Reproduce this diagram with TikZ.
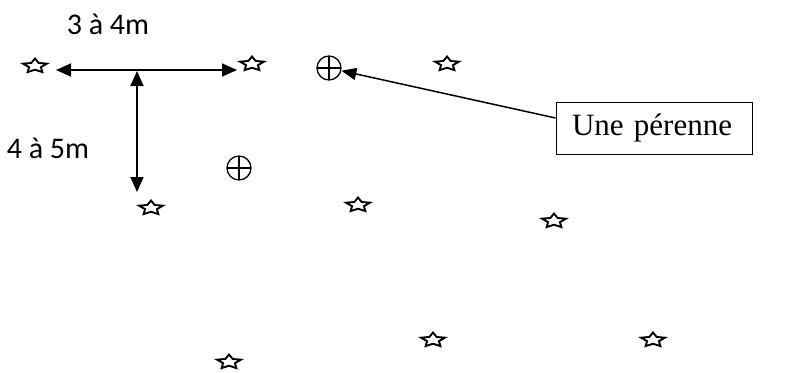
\documentclass[tikz,border=0pt]{standalone}
\usepackage{fontspec}
\setmainfont{Liberation Serif}
\newfontfamily\calib{Carlito}
\usetikzlibrary{shapes.geometric,arrows.meta}
\tikzset{
  starmark/.style={star, star points=5, star point ratio=2.0, draw, line width=1.9pt,
    minimum size=25pt, inner sep=0pt, yscale=0.6, transform shape},
  plusmark/.style={circle, draw, line width=1.3pt, minimum size=24pt, inner sep=0pt,
    path picture={\draw[line width=1.3pt] (path picture bounding box.north) -- (path picture bounding box.south)
      (path picture bounding box.west) -- (path picture bounding box.east);}},
  dimarrow/.style={line width=1.7pt, {Triangle[length=15pt,width=13pt]}-{Triangle[length=15pt,width=13pt]}},
  ptrarrow/.style={line width=1.5pt, -{Triangle[length=15pt,width=12pt]}},
  dimlabel/.style={font=\calib\fontsize{30}{36}\selectfont, inner sep=0pt},
  labelbox/.style={draw, line width=1pt, minimum width=196pt, minimum height=52pt,
    text width=164pt, inner xsep=16pt, align=left, font=\fontsize{31}{36}\selectfont}
}
\begin{document}
\begin{tikzpicture}[x=1pt,y=-1pt]
\useasboundingbox (0,0) rectangle (791,372);
% stars
\node[starmark] (s1) at (35,66) {};
\node[starmark] (s2) at (252,64) {};
\node[starmark] (s3) at (447,64) {};
\node[starmark] (s4) at (151,208) {};
\node[starmark] (s5) at (358,205) {};
\node[starmark] (s6) at (554,221) {};
\node[starmark] (s7) at (433,340) {};
\node[starmark] (s8) at (653,340) {};
\node[starmark] (s9) at (229,362) {};
% perennials
\node[plusmark] (c1) at (329,68) {};
\node[plusmark] (c2) at (239,168) {};
% dimension arrows
\coordinate (hl) at (56,70);
\coordinate (hr) at (237,70);
\coordinate (vt) at (137,71);
\coordinate (vb) at (137,192);
\draw[dimarrow] (hl) -- (hr);
\draw[dimarrow] (vt) -- (vb);
\node[dimlabel] (l1) at (108,24) {3 à 4m};
\node[dimlabel] (l2) at (48,148) {4 à 5m};
% label box
\node[labelbox] (box) at (654,128) {Une pérenne};
\draw[ptrarrow] ([yshift=10pt]box.west) -- (c1);
\end{tikzpicture}
\end{document}
